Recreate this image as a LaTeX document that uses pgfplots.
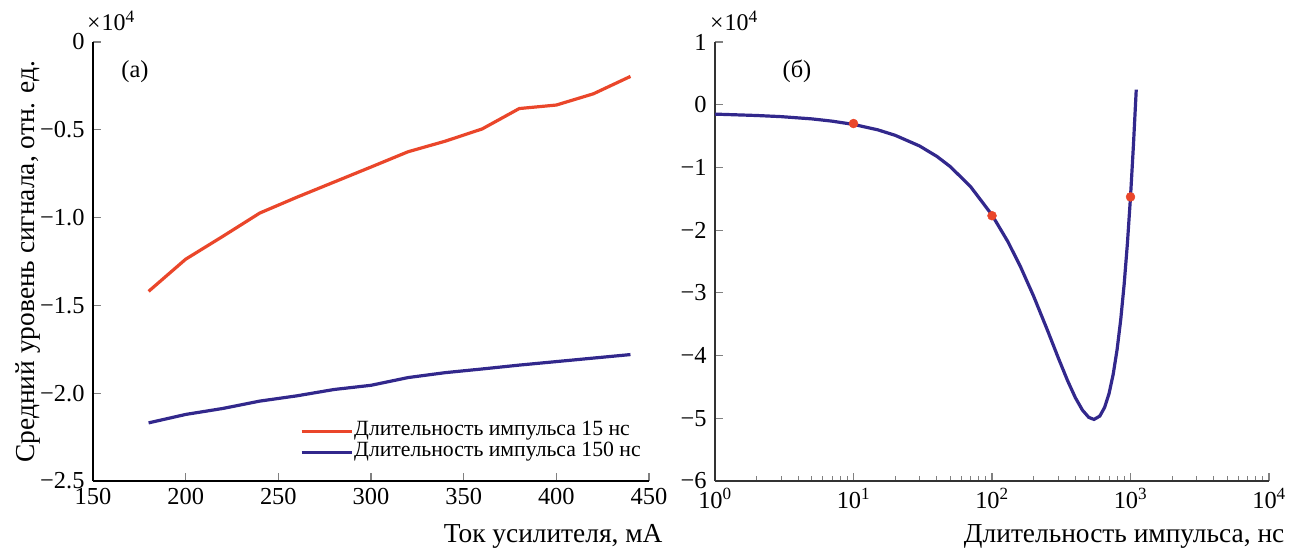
\documentclass[border=0pt]{standalone}
\usepackage{fontspec}
\setmainfont{Liberation Serif}
\usepackage{pgfplots}
\pgfplotsset{compat=1.18}
\definecolor{cred}{RGB}{234,70,42}
\definecolor{cblue}{RGB}{50,40,140}
\newcommand{\timesten}{{\fontsize{24}{28}\selectfont ×\kern1bp 10\raisebox{8.5bp}{\fontsize{17.5}{20}\selectfont 4}}}
\begin{document}
\begin{tikzpicture}
\path[use as bounding box] (0,0) rectangle (1304bp,549bp);
\pgfplotsset{
  every axis/.append style={
    scale only axis, height=439bp, clip=false,
    axis x line*=bottom, axis y line*=left,
    axis line style={-, line width=1.3bp},
    tick style={line width=1.1bp},
    major tick length=8bp, minor tick length=4.5bp,
    tick align=inside,
    tick label style={font=\fontsize{24.5}{29}\selectfont},
    xticklabel style={yshift=-4bp},
    yticklabel style={xshift=-5bp},
    label style={font=\fontsize{27.5}{32}\selectfont},
    /pgf/number format/assume math mode=true,
  }
}
% ---------------- (a)
\begin{axis}[name=A,
  at={(93bp,68bp)}, anchor=south west, width=556bp,
  xmin=150, xmax=450, ymin=-2.5, ymax=0,
  xtick={150,200,...,450},
  ytick={-2.5,-2,-1.5,-1,-0.5,0},
  yticklabels={−2.5,−2.0,−1.5,−1.0,−0.5,0},
  xlabel={Ток усилителя, мА},
  ylabel={Средний уровень сигнала, отн. ед.},
  x label style={at={(rel axis cs:1.0306,-0.139)}, anchor=base east},
  y label style={at={(rel axis cs:-0.117,0.5)}, anchor=center, rotate=0},
  legend style={at={(rel axis cs:0.372,0.138)}, anchor=north west, draw=none, fill=none,
    inner sep=0pt, font=\fontsize{21.8}{22}\selectfont,
    nodes={inner sep=1bp, text height=14bp, text depth=5bp},
    /tikz/every even column/.append style={column sep=4bp}},
  legend cell align=left,
  legend image code/.code={\draw[#1] (0bp,0bp) -- (50bp,0bp);},
]
\addplot[cred, line width=3.2bp] coordinates {
(180,-1.420) (200,-1.237) (220,-1.107) (240,-0.974) (260,-0.884) (280,-0.798)
(300,-0.712) (320,-0.625) (340,-0.565) (360,-0.495) (380,-0.379) (400,-0.359)
(420,-0.295) (440,-0.196)};
\addlegendentry{Длительность импульса 15 нс}
\addplot[cblue, line width=3.2bp] coordinates {
(180,-2.169) (200,-2.121) (220,-2.087) (240,-2.045) (260,-2.015) (280,-1.979)
(300,-1.955) (320,-1.911) (340,-1.883) (360,-1.862) (380,-1.840) (400,-1.820)
(420,-1.800) (440,-1.780)};
\addlegendentry{Длительность импульса 150 нс}
\node[font=\fontsize{24.5}{28}\selectfont] at (rel axis cs:0.0755,0.932) {(a)};
\end{axis}
% ---------------- (б)
\begin{axis}[name=B,
  at={(715bp,68bp)}, anchor=south west, width=554bp,
  xmode=log, xmin=1, xmax=10000, ymin=-6, ymax=1,
  axis line style={black!80},
  xtick={1,10,100,1000,10000},
  xticklabels={10\textsuperscript{0},10\textsuperscript{1},10\textsuperscript{2},10\textsuperscript{3},10\textsuperscript{4}},
  minor xtick={2,3,4,5,6,7,8,9,20,30,40,50,60,70,80,90,200,300,400,500,600,700,800,900,2000,3000,4000,5000,6000,7000,8000,9000},
  ytick={-6,-5,-4,-3,-2,-1,0,1},
  yticklabels={−6,−5,−4,−3,−2,−1,0,1},
  xlabel={Длительность импульса, нс},
  x label style={at={(rel axis cs:1.034,-0.139)}, anchor=base east},
]
\addplot[only marks, mark=*, mark size=4.5bp, cred] coordinates {
(10,-0.30) (100,-1.77) (1000,-1.47)};
\addplot[cblue, line width=3.2bp] coordinates {
(1,-0.150) (2,-0.172) (3,-0.190) (5,-0.226) (7,-0.262) (10,-0.314) (15,-0.401)
(20,-0.488) (30,-0.658) (40,-0.824) (50,-0.988) (70,-1.306) (100,-1.758)
(130,-2.181) (160,-2.576) (200,-3.056) (250,-3.583) (300,-4.029) (350,-4.392)
(400,-4.673) (450,-4.871) (500,-4.986) (545,-5.018) (600,-4.965) (650,-4.827)
(700,-4.605) (750,-4.298) (800,-3.905) (850,-3.426) (900,-2.861) (950,-2.208)
(1000,-1.469) (1050,-0.642) (1100,0.240)};
\node[font=\fontsize{24.5}{28}\selectfont] at (rel axis cs:0.148,0.932) {(б)};
\end{axis}
\node[anchor=base west, inner sep=0pt] at (87bp,518bp) {\timesten};
\node[anchor=base west, inner sep=0pt] at (710bp,518bp) {\timesten};
\end{tikzpicture}
\end{document}
